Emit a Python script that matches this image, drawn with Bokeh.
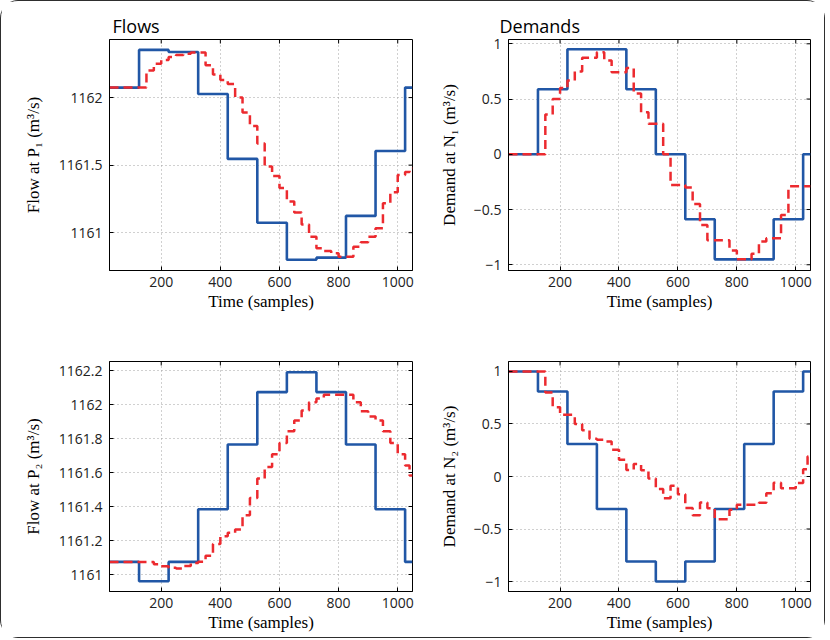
import math
from bokeh.plotting import figure
from bokeh.layouts import gridplot
from bokeh.models import Range1d, FixedTicker, CustomJSTickFormatter, Title
from bokeh.embed import file_html
from bokeh.resources import INLINE

# ---------------- data ----------------
block_t = [25, 125, 225, 325, 425, 525, 625, 725, 825, 925, 1025]
red_t = [25, 50, 75, 100, 125, 150, 175, 200, 225, 250, 275, 300, 325, 350, 375, 400,
         425, 450, 475, 500, 525, 550, 575, 600, 625, 650, 675, 700, 725, 750, 775, 800,
         825, 850, 875, 900, 925, 950, 975, 1000, 1025, 1040]
t_end = 1050

flow_p1_ref = [1162.074, 1162.353, 1162.338, 1162.027, 1161.546, 1161.074,
               1160.800, 1160.815, 1161.124, 1161.605, 1162.074]
flow_p1_est = [1162.074, 1162.074, 1162.074, 1162.074, 1162.074, 1162.20, 1162.25, 1162.279,
               1162.30, 1162.316, 1162.325, 1162.333, 1162.333, 1162.24, 1162.17, 1162.131,
               1162.10, 1162.00, 1161.89, 1161.79, 1161.66, 1161.49, 1161.42, 1161.33,
               1161.23, 1161.15, 1161.06, 1160.97, 1160.884, 1160.865, 1160.847, 1160.822,
               1160.822, 1160.896, 1160.93, 1160.970, 1161.033, 1161.218, 1161.30, 1161.427,
               1161.45, 1161.477]

demand_n1_ref = [0.0, 0.588, 0.951, 0.951, 0.588, 0.0, -0.588, -0.951, -0.951, -0.588, 0.0]
demand_n1_est = [0.0, 0.0, 0.0, 0.0, 0.0, 0.36, 0.50, 0.60, 0.667, 0.75, 0.873, 0.873,
                 0.924, 0.85, 0.742, 0.742, 0.78, 0.55, 0.38, 0.276, 0.276, 0.0, -0.279,
                 -0.279, -0.30, -0.45, -0.64, -0.779, -0.779, -0.779, -0.87, -0.95, -0.95,
                 -0.90, -0.79, -0.76, -0.76, -0.55, -0.29, -0.29, -0.29, -0.29]

flow_p2_ref = [1161.074, 1160.960, 1161.074, 1161.384, 1161.765, 1162.073,
               1162.190, 1162.073, 1161.765, 1161.384, 1161.074]
flow_p2_est = [1161.074, 1161.074, 1161.074, 1161.074, 1161.074, 1161.074, 1161.06, 1161.049,
               1161.04, 1161.035, 1161.05, 1161.068, 1161.075, 1161.11, 1161.18, 1161.225,
               1161.245, 1161.264, 1161.348, 1161.45, 1161.564, 1161.632, 1161.707, 1161.773,
               1161.843, 1161.906, 1161.965, 1162.014, 1162.035, 1162.057, 1162.057, 1162.057,
               1162.057, 1162.014, 1161.961, 1161.93, 1161.906, 1161.843, 1161.773, 1161.707,
               1161.641, 1161.582]

demand_n2_ref = [1.0, 0.809, 0.309, -0.309, -0.809, -1.0, -0.809, -0.309, 0.309, 0.809, 1.0]
demand_n2_est = [1.0, 1.0, 1.0, 1.0, 1.0, 0.80, 0.66, 0.587, 0.587, 0.50, 0.44, 0.359,
                 0.35, 0.333, 0.254, 0.159, 0.063, 0.12, 0.06, -0.02, -0.12, -0.206, -0.089,
                 -0.17, -0.30, -0.37, -0.248, -0.302, -0.406, -0.406, -0.317, -0.27, -0.27,
                 -0.27, -0.25, -0.16, -0.06, -0.111, -0.111, -0.063, 0.07, 0.19]

x_ticks = [200, 400, 600, 800, 1000]
flow_p1_ticks = [1161, 1161.5, 1162]
flow_p2_ticks = [1161, 1161.2, 1161.4, 1161.6, 1161.8, 1162, 1162.2]
demand_ticks = [-1, -0.5, 0, 0.5, 1]

x_lim = (25, 1050)
flow_p1_lim = (1160.72, 1162.43)
demand_n1_lim = (-1.052, 1.039)
flow_p2_lim = (1160.90, 1162.253)
demand_n2_lim = (-1.095, 1.095)

# ---------------- style ----------------
BLUE = "#2157a6"
RED = "#ec2a2f"
TICK_FONT = "Open Sans"
LABEL_FONT = "Liberation Serif"

FLOW_FMT = "return (Math.round(tick*10)/10).toString();"
DEM_FMT = ("const v = Math.round(tick*10)/10;"
           "return (v < 0 ? '\\u2212' : '') + Math.abs(v).toString();")


def panel(ylabel, ylim, yticks, fmt, ref, est, fw, fh, ml, mr, mt, mb,
          ylabel_standoff, title=None, title_offset=0, xlabel_offset=-17):
    p = figure(frame_width=fw, frame_height=fh,
               x_range=Range1d(*x_lim), y_range=Range1d(*ylim),
               output_backend="svg", toolbar_location=None,
               min_border_left=ml, min_border_right=mr,
               min_border_top=mt, min_border_bottom=mb,
               background_fill_color="white", border_fill_color="white")
    p.outline_line_color = "black"
    p.outline_line_width = 1

    xt = FixedTicker(ticks=x_ticks)
    yt = FixedTicker(ticks=yticks)
    p.xaxis.ticker = xt
    p.yaxis.ticker = yt
    p.yaxis.formatter = CustomJSTickFormatter(code=fmt)
    p.xaxis.formatter = CustomJSTickFormatter(code="return tick.toFixed(0);")
    for ax in (p.xaxis[0], p.yaxis[0]):
        ax.major_tick_in = 4
        ax.major_tick_out = 0
        ax.minor_tick_line_color = None
        ax.axis_line_color = "black"
        ax.major_tick_line_color = "black"
        ax.major_label_text_font = TICK_FONT
        ax.major_label_text_font_size = "14px"
        ax.major_label_text_color = "#222222"
    p.xaxis.major_label_standoff = 6
    p.yaxis.major_label_standoff = 7

    # inward ticks on the top and right edges of the box
    p.ray(x=x_ticks, y=[ylim[1]] * len(x_ticks), length=4, length_units="screen",
          angle=-math.pi / 2, line_color="black", line_width=1)
    p.ray(x=[x_lim[1]] * len(yticks), y=yticks, length=4, length_units="screen",
          angle=math.pi, line_color="black", line_width=1)

    p.grid.grid_line_color = "#a0a0a0"
    p.grid.grid_line_dash = "1 3"
    p.grid.grid_line_width = 1
    p.xgrid.ticker = xt
    p.ygrid.ticker = yt

    p.add_layout(Title(text="Time (samples)", align="center", offset=xlabel_offset,
                       standoff=0, text_font=LABEL_FONT, text_font_size="17px",
                       text_font_style="normal", text_color="black"), "below")
    p.add_layout(Title(text=ylabel, align="center", offset=0,
                       standoff=ylabel_standoff, text_font=LABEL_FONT,
                       text_font_size="17px", text_font_style="normal",
                       text_color="black"), "left")

    if title:
        p.title.text = title
        p.title.text_font = TICK_FONT
        p.title.text_font_size = "18px"
        p.title.text_font_style = "normal"
        p.title.text_color = "black"
        p.title.align = "left"
        p.title.offset = title_offset
        p.title.standoff = 4

    p.step(block_t + [t_end], ref + [ref[-1]], mode="after",
           line_color=BLUE, line_width=2.6)
    p.step(red_t + [t_end], est + [est[-1]], mode="after",
           line_color=RED, line_width=2.5, line_dash="9 5")
    return p


p1 = panel("Flow at P\u2081 (m\u00b3/s)", flow_p1_lim, flow_p1_ticks, FLOW_FMT,
           flow_p1_ref, flow_p1_est, 303, 231, 108, 12, 38, 57, 26,
           title="Flows", title_offset=3)
p2 = panel("Demand at N\u2081 (m\u00b3/s)", demand_n1_lim, demand_ticks, DEM_FMT,
           demand_n1_ref, demand_n1_est, 302, 231, 84, 14, 38, 57, 24,
           title="Demands", title_offset=-9)
p3 = panel("Flow at P\u2082 (m\u00b3/s)", flow_p2_lim, flow_p2_ticks, FLOW_FMT,
           flow_p2_ref, flow_p2_est, 303, 230, 108, 12, 34, 46, 26)
p4 = panel("Demand at N\u2082 (m\u00b3/s)", demand_n2_lim, demand_ticks, DEM_FMT,
           demand_n2_ref, demand_n2_est, 302, 230, 84, 14, 34, 46, 24)

grid = gridplot([[p1, p2], [p3, p4]], toolbar_location=None)
grid.styles = {"border": "1.5px solid #2e2e2e", "border-radius": "18px"}

open("out.html", "w").write(file_html(grid, INLINE))
